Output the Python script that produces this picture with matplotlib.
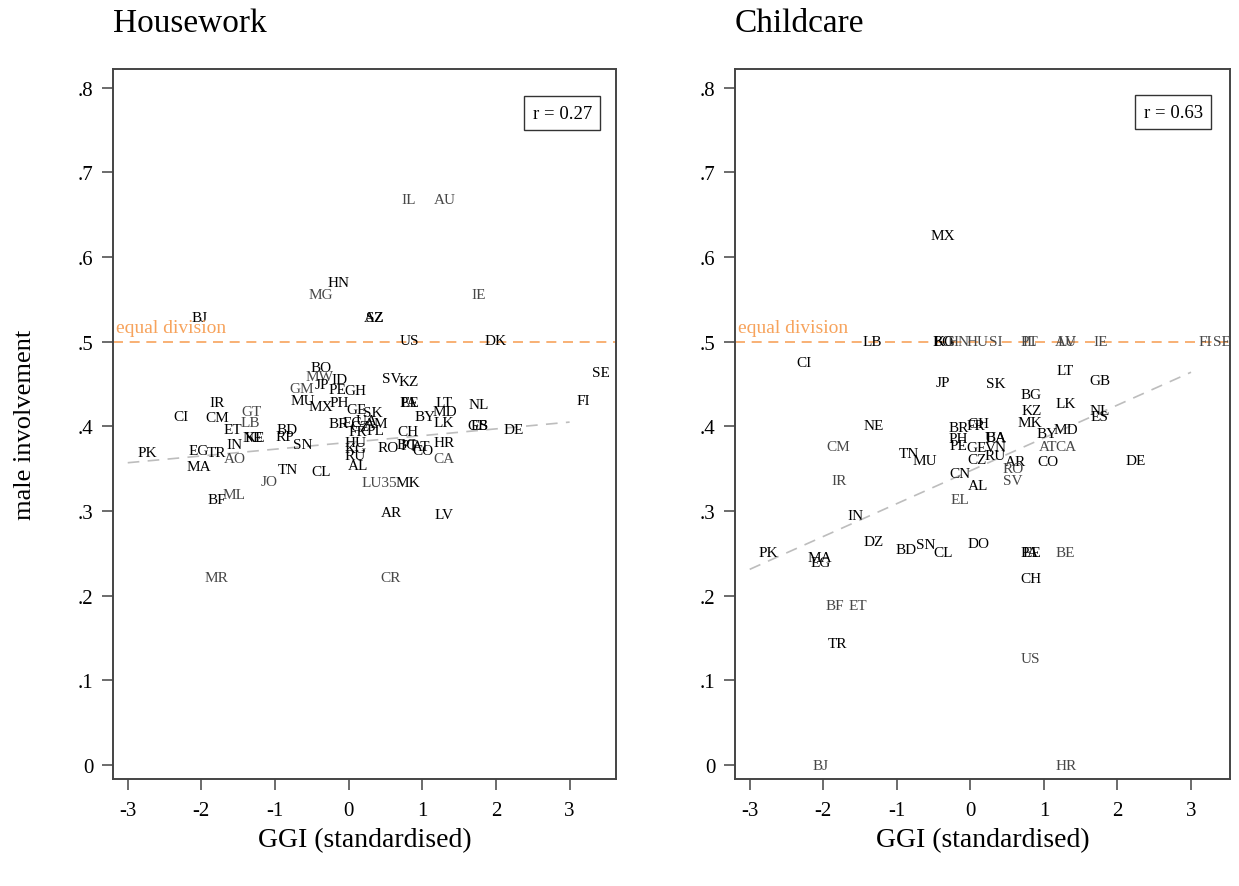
import matplotlib
matplotlib.use("Agg")
import matplotlib.pyplot as plt
import numpy as np

plt.rcParams['font.family'] = ['Liberation Serif', 'DejaVu Serif']

# ---------------- data: Housework ----------------
hw_codes = ["IL", "AU", "HN", "MG", "IE", "BJ", "AZ", "SZ", "US", "DK", "SE",
            "BO", "MW", "JP", "ID", "GM", "PE", "GH", "MU", "MX", "PH",
            "IR", "CI", "CM", "GT", "LB", "ET", "NE", "KE", "IN", "BD", "RP",
            "SN", "PK", "EG", "TR", "AO", "MA", "TN", "CL", "JO", "BF", "ML",
            "SV", "KZ", "GE", "SK", "BR", "EC", "UA", "AM", "CZ", "FR", "PL",
            "HU", "KG", "RU", "AL", "CH", "RO", "BG", "PT", "PA", "EE", "LT",
            "MD", "BY", "LK", "NL", "GB", "ES", "DE", "FI", "HR", "CA", "AT",
            "CO", "LU35", "MK", "AR", "LV", "MR", "CR"]
hw_ggi = [0.81, 1.30, -0.14, -0.38, 1.76, -2.03, 0.34, 0.36, 0.82, 2.00, 3.42,
          -0.38, -0.39, -0.37, -0.13, -0.64, -0.15, 0.09, -0.62, -0.38, -0.13,
          -1.79, -2.27, -1.79, -1.32, -1.33, -1.57, -1.30, -1.28, -1.55, -0.84, -0.86,
          -0.62, -2.74, -2.03, -1.80, -1.55, -2.03, -0.83, -0.37, -1.08, -1.79, -1.55,
          0.58, 0.81, 0.11, 0.33, -0.14, 0.05, 0.25, 0.38, 0.15, 0.12, 0.36,
          0.09, 0.09, 0.09, 0.13, 0.81, 0.54, 0.80, 0.82, 0.81, 0.83, 1.29,
          1.31, 1.04, 1.29, 1.76, 1.76, 1.77, 2.24, 3.19, 1.29, 1.29, 0.99,
          1.01, 0.42, 0.81, 0.58, 1.29, -1.79, 0.57]
hw_male = [0.668, 0.668, 0.570, 0.556, 0.556, 0.529, 0.528, 0.528, 0.501, 0.501, 0.464,
           0.469, 0.459, 0.449, 0.455, 0.445, 0.444, 0.442, 0.431, 0.424, 0.428,
           0.428, 0.412, 0.411, 0.417, 0.405, 0.396, 0.387, 0.387, 0.379, 0.396, 0.388,
           0.379, 0.369, 0.372, 0.369, 0.362, 0.352, 0.349, 0.347, 0.335, 0.314, 0.320,
           0.456, 0.453, 0.420, 0.416, 0.403, 0.405, 0.407, 0.403, 0.400, 0.394, 0.395,
           0.381, 0.374, 0.365, 0.354, 0.394, 0.375, 0.379, 0.377, 0.428, 0.428, 0.428,
           0.418, 0.412, 0.405, 0.426, 0.401, 0.401, 0.396, 0.431, 0.381, 0.362, 0.376,
           0.372, 0.334, 0.334, 0.298, 0.296, 0.222, 0.222]
hw_fit = (0.381, 0.0080)   # intercept, slope
hw_r = "r = 0.27"

# ---------------- data: Childcare ----------------
cc_codes = ["MX", "LB", "BO", "KG", "HN", "HU", "SI", "PT", "IL", "AU", "LV",
            "IE", "FI", "SE", "CI", "LT", "JP", "SK", "GB", "BG", "LK", "KZ",
            "NL", "ES", "NE", "MK", "CM", "IR", "TN", "MU", "CN", "EL", "IN",
            "DZ", "BR", "FR", "GH", "PH", "PE", "GE", "UA", "BA", "VN", "CZ",
            "RU", "AR", "RO", "SV", "AL", "BY", "MD", "AT", "CA", "CO", "DE",
            "PK", "MA", "EG", "BD", "SN", "CL", "DO", "PA", "EE", "BE", "CH",
            "BF", "ET", "TR", "US", "BJ", "HR"]
cc_ggi = [-0.37, -1.33, -0.37, -0.35, -0.16, 0.10, 0.34, 0.80, 0.81, 1.30, 1.31,
          1.77, 3.19, 3.42, -2.26, 1.29, -0.37, 0.35, 1.76, 0.82, 1.30, 0.83,
          1.76, 1.76, -1.32, 0.81, -1.79, -1.79, -0.84, -0.62, -0.14, -0.14, -1.56,
          -1.32, -0.16, 0.07, 0.11, -0.16, -0.16, 0.09, 0.34, 0.35, 0.34, 0.09,
          0.34, 0.61, 0.58, 0.58, 0.11, 1.04, 1.30, 1.06, 1.30, 1.06, 2.25,
          -2.74, -2.04, -2.04, -0.87, -0.61, -0.37, 0.11, 0.81, 0.83, 1.29, 0.83,
          -1.84, -1.53, -1.80, 0.81, -2.03, 1.30]
cc_male = [0.625, 0.500, 0.500, 0.500, 0.500, 0.500, 0.500, 0.500, 0.500, 0.500, 0.500,
           0.500, 0.500, 0.500, 0.475, 0.466, 0.452, 0.451, 0.454, 0.438, 0.427, 0.419,
           0.419, 0.412, 0.401, 0.405, 0.376, 0.336, 0.368, 0.360, 0.344, 0.314, 0.295,
           0.264, 0.399, 0.401, 0.403, 0.386, 0.377, 0.375, 0.387, 0.387, 0.375, 0.361,
           0.365, 0.359, 0.350, 0.336, 0.330, 0.391, 0.396, 0.376, 0.376, 0.358, 0.360,
           0.251, 0.245, 0.239, 0.255, 0.261, 0.251, 0.262, 0.251, 0.251, 0.251, 0.220,
           0.188, 0.188, 0.143, 0.126, 0.000, 0.000]
cc_fit = (0.3475, 0.0388)
cc_r = "r = 0.63"

equal_share = 0.5
x_ticks = [-3, -2, -1, 0, 1, 2, 3]
x_ticklabels = ["-3", "-2", "-1", "0", "1", "2", "3"]
y_ticks = [0, 0.1, 0.2, 0.3, 0.4, 0.5, 0.6, 0.7, 0.8]
y_ticklabels = ["0", ".1", ".2", ".3", ".4", ".5", ".6", ".7", ".8"]

# labels drawn in the lighter tone (style, not data)
hw_light = {"IL", "AU", "MG", "IE", "MW", "GM", "GT", "LB", "AO", "ML", "JO",
            "LU35", "CA", "MR", "CR"}
cc_light = {"HN", "HU", "SI", "PT", "IL", "AU", "LV", "IE", "FI", "SE", "CM",
            "IR", "EL", "AT", "CA", "SV", "RO", "BE", "BF", "ET", "US", "BJ", "HR"}

W, H = 1239, 887
fig = plt.figure(figsize=(W / 100, H / 100), dpi=100)

def px_axes(x0, x1, y0, y1):
    return fig.add_axes([x0 / W, 1 - y1 / H, (x1 - x0) / W, (y1 - y0) / H])

ax1 = px_axes(113, 616, 70, 780)
ax2 = px_axes(735, 1230, 70, 780)

ORANGE = "#f7a35c"
FRAME = "#444444"

def draw(ax, codes, xs, ys, light, fit, rtxt, title, xlim, rpos):
    ax.set_xlim(*xlim)
    ax.set_ylim(-0.0165, 0.822)
    for c, x, y in zip(codes, xs, ys):
        col = "#474747" if c in light else "#000000"
        ax.text(x, y, c, ha="center", va="center", fontsize=11, color=col)
    # equal division
    ax.axhline(equal_share, color=ORANGE, lw=1.2, ls=(0, (6, 4)))
    ax.text(xlim[0] + 0.04, equal_share + 0.007, "equal division", color=ORANGE,
            fontsize=14, ha="left", va="bottom")
    # fit line
    fx = np.array([-3.0, 3.0])
    ax.plot(fx, fit[0] + fit[1] * fx, color="#bdbdbd", lw=1.2, ls=(0, (7, 5)))
    ax.text(rpos[0], rpos[1], rtxt, transform=ax.transAxes, ha="center", va="center",
            fontsize=13.5,
            bbox=dict(boxstyle="square,pad=0.45", fc="white", ec="#333333", lw=1.0))
    ax.set_xticks(x_ticks)
    ax.set_xticklabels(x_ticklabels)
    ax.set_yticks(y_ticks)
    ax.set_yticklabels(y_ticklabels)
    ax.tick_params(direction="out", length=8, width=1.1, color=FRAME,
                   labelsize=15, pad=6)
    ax.tick_params(axis="x", pad=8)
    for s in ax.spines.values():
        s.set_color(FRAME)
        s.set_linewidth(1.4)
    ax.set_xlabel("GGI (standardised)", fontsize=20, labelpad=5)
    ax.set_title(title, loc="left", fontsize=24, pad=27)

draw(ax1, hw_codes, hw_ggi, hw_male, hw_light, hw_fit, hw_r, "Housework",
     (-3.2, 3.63), (0.893, 0.938))
draw(ax2, cc_codes, cc_ggi, cc_male, cc_light, cc_fit, cc_r, "Childcare",
     (-3.2, 3.53), (0.885, 0.939))

fig.text(25 / W, 1 - 425 / H, "male involvement", rotation=90, fontsize=19,
         ha="center", va="center")

fig.savefig("out.png", dpi=100)
